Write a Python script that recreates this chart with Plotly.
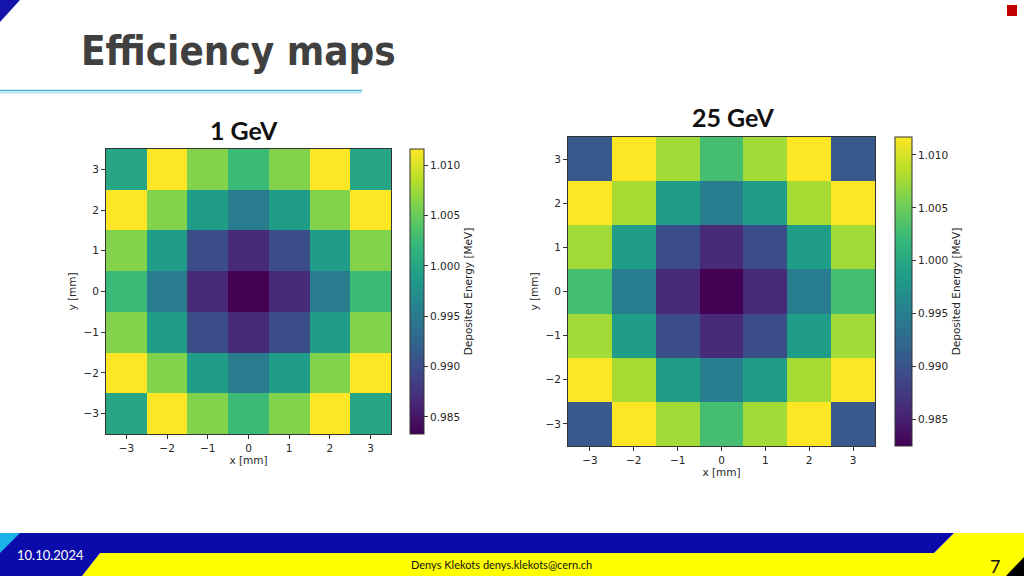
import plotly.graph_objects as go

# ---------------- data ----------------
x_mm = [-3, -2, -1, 0, 1, 2, 3]
y_mm = [-3, -2, -1, 0, 1, 2, 3]
tick_vals = [-3, -2, -1, 0, 1, 2, 3]
cbar_ticks = [0.985, 0.990, 0.995, 1.000, 1.005, 1.010]

# rows listed from y = +3 (top) down to y = -3 (bottom)
energy_1gev_rows = [
    [1.0000, 1.0118, 1.0062, 1.0025, 1.0062, 1.0118, 1.0000],
    [1.0118, 1.0062, 0.9989, 0.9952, 0.9989, 1.0062, 1.0118],
    [1.0062, 0.9989, 0.9901, 0.9867, 0.9901, 0.9989, 1.0062],
    [1.0025, 0.9952, 0.9867, 0.9833, 0.9867, 0.9952, 1.0025],
    [1.0062, 0.9989, 0.9901, 0.9867, 0.9901, 0.9989, 1.0062],
    [1.0118, 1.0062, 0.9989, 0.9952, 0.9989, 1.0062, 1.0118],
    [1.0000, 1.0118, 1.0062, 1.0025, 1.0062, 1.0118, 1.0000],
]
energy_25gev_rows = [
    [0.9907, 1.0120, 1.0076, 1.0029, 1.0076, 1.0120, 0.9907],
    [1.0120, 1.0078, 0.9986, 0.9948, 0.9986, 1.0078, 1.0120],
    [1.0076, 0.9986, 0.9895, 0.9860, 0.9895, 0.9986, 1.0076],
    [1.0029, 0.9948, 0.9860, 0.9825, 0.9860, 0.9948, 1.0029],
    [1.0076, 0.9986, 0.9895, 0.9860, 0.9895, 0.9986, 1.0076],
    [1.0120, 1.0078, 0.9986, 0.9948, 0.9986, 1.0078, 1.0120],
    [0.9907, 1.0120, 1.0076, 1.0029, 1.0076, 1.0120, 0.9907],
]
range_1gev = [0.9833, 1.0116]
range_25gev = [0.9825, 1.0117]

titles = ["1 GeV", "25 GeV"]
slide_title = "Efficiency maps"
date_text = "10.10.2024"
author_text = "Denys Klekots denys.klekots@cern.ch"
page_no = "7"

W, H = 1024, 576


def px(x):
    return x / W


def py(y):
    return 1 - y / H


AX_FONT = dict(family="DejaVu Sans", size=10.5, color="#262626")

fig = go.Figure()


def add_map(rows, zr, xaxis, yaxis, cb_x, cb_thick, cb_top, cb_bot):
    z = rows[::-1]  # bottom row first
    fig.add_trace(go.Heatmap(
        x=x_mm, y=y_mm, z=z, xaxis=xaxis, yaxis=yaxis,
        colorscale="Viridis", zmin=zr[0], zmax=zr[1],
        hoverinfo="skip",
        colorbar=dict(
            x=px(cb_x), xanchor="left", xref="paper",
            thickness=cb_thick, thicknessmode="pixels",
            len=(cb_bot - cb_top) / H, lenmode="fraction",
            y=py((cb_top + cb_bot) / 2), yanchor="middle",
            outlinewidth=1, outlinecolor="#333333",
            ticks="outside", ticklen=4, tickcolor="#333333",
            tickvals=cbar_ticks, ticktext=[f"{v:.3f}" for v in cbar_ticks],
            tickfont=AX_FONT,
            title=dict(text="Deposited Energy [MeV]", side="right",
                       font=dict(family="DejaVu Sans", size=10.5, color="#262626")),
            xpad=0, ypad=0,
        ),
    ))


# map geometry (pixels)
L = dict(x0=106, x1=391, y0=149, y1=434)
R = dict(x0=568, x1=875, y0=137, y1=446)

add_map(energy_1gev_rows, range_1gev, "x", "y", 410, 14, L["y0"], L["y1"])
add_map(energy_25gev_rows, range_25gev, "x2", "y2", 895, 17, R["y0"], R["y1"])


def axis(domain, title_text, anchor):
    return dict(
        domain=domain, range=[-3.5, 3.5], anchor=anchor,
        tickvals=tick_vals, ticks="outside", ticklen=4, tickcolor="#333333",
        tickfont=AX_FONT, showgrid=False, zeroline=False,
        showline=True, linecolor="#333333", linewidth=1, mirror=True,
        title=dict(text=title_text, font=dict(family="DejaVu Sans", size=10.5, color="#262626"),
                   standoff=4),
        fixedrange=True,
    )


fig.update_layout(
    width=W, height=H,
    margin=dict(l=0, r=0, t=0, b=0),
    paper_bgcolor="white", plot_bgcolor="white",
    showlegend=False,
    xaxis=axis([px(L["x0"]), px(L["x1"])], "x [mm]", "y"),
    yaxis=axis([py(L["y1"]), py(L["y0"])], "y [mm]", "x"),
    xaxis2=axis([px(R["x0"]), px(R["x1"])], "x [mm]", "y2"),
    yaxis2=axis([py(R["y1"]), py(R["y0"])], "y [mm]", "x2"),
)


def poly(points, color):
    d = "M " + " L ".join(f"{px(x):.5f},{py(y):.5f}" for x, y in points) + " Z"
    return dict(type="path", path=d, xref="paper", yref="paper",
                fillcolor=color, line=dict(width=0), layer="above")


shapes = [
    # top-left blue triangle
    poly([(0, 0), (20, 0), (0, 22)], "#1414aa"),
    # top-right red square
    dict(type="rect", xref="paper", yref="paper", x0=px(1007), x1=px(1017),
         y0=py(16), y1=py(5), fillcolor="#c00000", line=dict(width=0)),
    # title underline (double light blue)
    dict(type="line", xref="paper", yref="paper", x0=0, x1=px(362), y0=py(90.5), y1=py(90.5),
         line=dict(color="#45b0d8", width=1.5)),
    dict(type="line", xref="paper", yref="paper", x0=0, x1=px(362), y0=py(92.8), y1=py(92.8),
         line=dict(color="#a6dcef", width=1.2)),
    # footer
    poly([(82, 576), (100, 553), (934, 553), (954, 533), (1024, 533), (1024, 576)], "#ffff00"),
    poly([(0, 533), (954, 533), (934, 553), (100, 553), (82, 576), (0, 576)], "#0b0bab"),
    poly([(0, 533), (20, 533), (0, 553)], "#1ab2e8"),
    poly([(1006, 576), (1024, 557), (1024, 576)], "#000000"),
]
fig.update_layout(shapes=shapes)

ann = [
    dict(text="<b>" + slide_title + "</b>", x=px(79), y=py(51), xanchor="left", yanchor="middle",
         font=dict(family="DejaVu Sans Condensed, Roboto Condensed, Roboto", size=40, color="#404040")),
    dict(text="<b>" + titles[0] + "</b>", x=px(244), y=py(130), xanchor="center", yanchor="middle",
         font=dict(family="Lato", size=25, color="#111111")),
    dict(text="<b>" + titles[1] + "</b>", x=px(733), y=py(117), xanchor="center", yanchor="middle",
         font=dict(family="Lato", size=25, color="#111111")),
    dict(text=date_text, x=px(15), y=py(555), xanchor="left", yanchor="middle",
         font=dict(family="Lato", size=13, color="white")),
    dict(text=author_text, x=px(501), y=py(564), xanchor="center", yanchor="middle",
         font=dict(family="Lato", size=11, color="#111111")),
    dict(text=page_no, x=px(995), y=py(566), xanchor="center", yanchor="middle",
         font=dict(family="Lato", size=18, color="#111111")),
]
for a in ann:
    a.update(xref="paper", yref="paper", showarrow=False)
fig.update_layout(annotations=ann)

fig.write_html(
    "out.html",
    config={"displayModeBar": False},
    post_script="document.body.style.margin='0';document.body.style.overflow='hidden';",
)
